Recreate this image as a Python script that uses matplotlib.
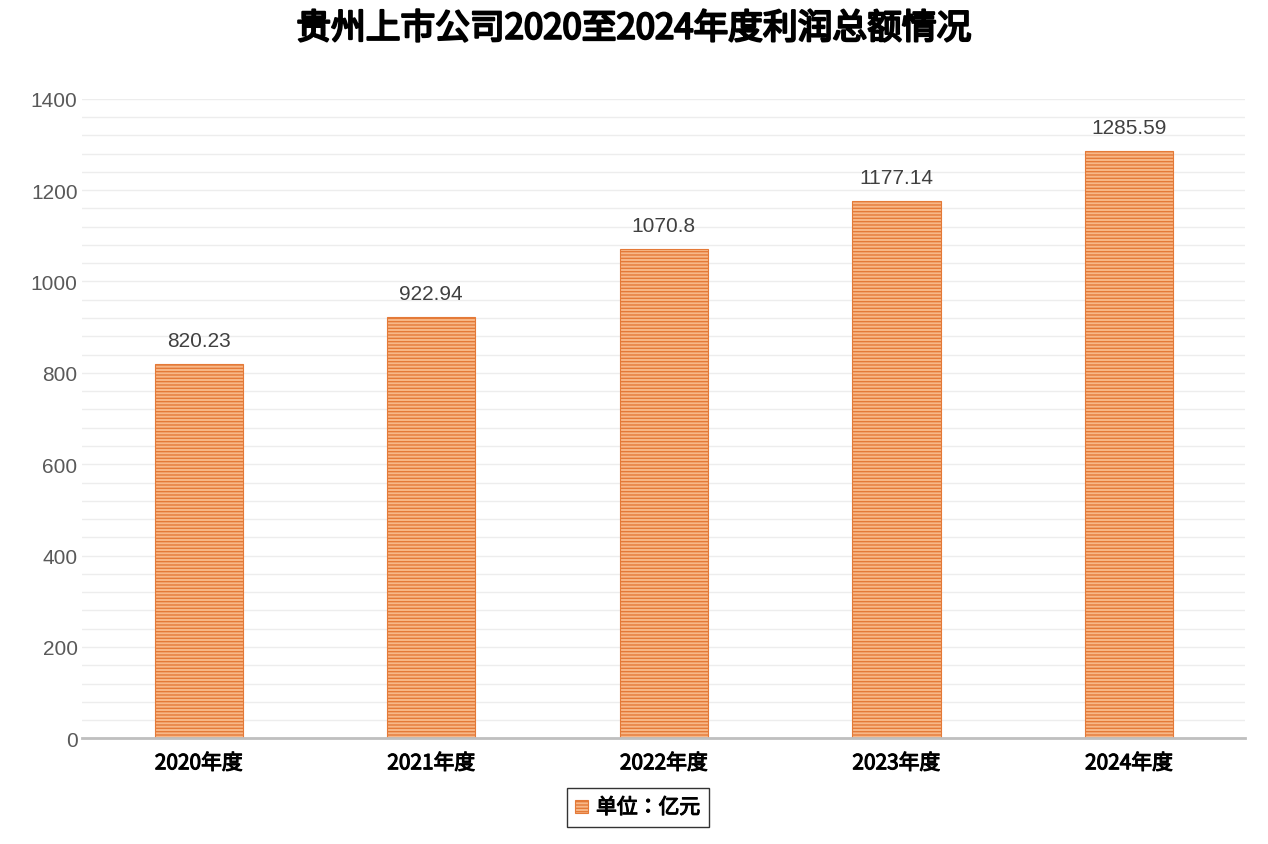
import matplotlib
matplotlib.use("Agg")
import matplotlib.pyplot as plt
import matplotlib.patheffects as pe
from matplotlib.ticker import MultipleLocator
plt.rcParams['font.family'] = 'sans-serif'
plt.rcParams['font.sans-serif'] = ['Noto Sans CJK SC', 'Noto Sans CJK JP', 'DejaVu Sans']
plt.rcParams['hatch.linewidth'] = 1.0
plt.rcParams['hatch.color'] = '#E47A38'

categories = ["2020年度", "2021年度", "2022年度", "2023年度", "2024年度"]
values = [820.23, 922.94, 1070.8, 1177.14, 1285.59]
labels = ["820.23", "922.94", "1070.8", "1177.14", "1285.59"]

def bold(w):
    return [pe.withStroke(linewidth=w, foreground='black')]

fig = plt.figure(figsize=(12.68, 8.45), dpi=100)
ax = fig.add_axes([0.065, 0.125, 0.917, 0.757])
ax.bar(range(5), values, width=0.38, color='#F8B888', edgecolor='#E47A38',
       hatch='-----', linewidth=0.8, label='单位：亿元')
for i, (v, t) in enumerate(zip(values, labels)):
    ax.text(i, v + 30, t, ha='center', va='bottom', fontsize=15, color='#404040',
            fontfamily='Liberation Sans')
ax.set_xlim(-0.5, 4.5)
ax.set_ylim(0, 1400)
ax.yaxis.set_major_locator(MultipleLocator(200))
ax.yaxis.set_minor_locator(MultipleLocator(40))
ax.grid(axis='y', which='both', color='#EDEDED', linewidth=1)
ax.set_axisbelow(True)
for s in ['top', 'right', 'left']:
    ax.spines[s].set_visible(False)
ax.spines['bottom'].set_color('#BFBFBF')
ax.spines['bottom'].set_linewidth(2)
ax.tick_params(axis='y', which='both', length=0, labelsize=15, labelcolor='#595959')
ax.tick_params(axis='x', length=0, labelsize=15, pad=10)
for lb in ax.get_yticklabels():
    lb.set_fontfamily('Liberation Sans')
ax.set_xticks(range(5))
ax.set_xticklabels(categories)
for lb in ax.get_xticklabels():
    lb.set_path_effects(bold(0.8))
t = fig.suptitle('贵州上市公司2020至2024年度利润总额情况', fontsize=25, y=0.985)
t.set_path_effects(bold(1.6))
leg = fig.legend(loc='lower center', bbox_to_anchor=(0.503, 0.008), fontsize=15, frameon=True,
                 fancybox=False, edgecolor='black', handlelength=0.6, handleheight=0.6,
                 handletextpad=0.4)
for tx in leg.get_texts():
    tx.set_path_effects(bold(0.8))
fig.savefig('out.png')
